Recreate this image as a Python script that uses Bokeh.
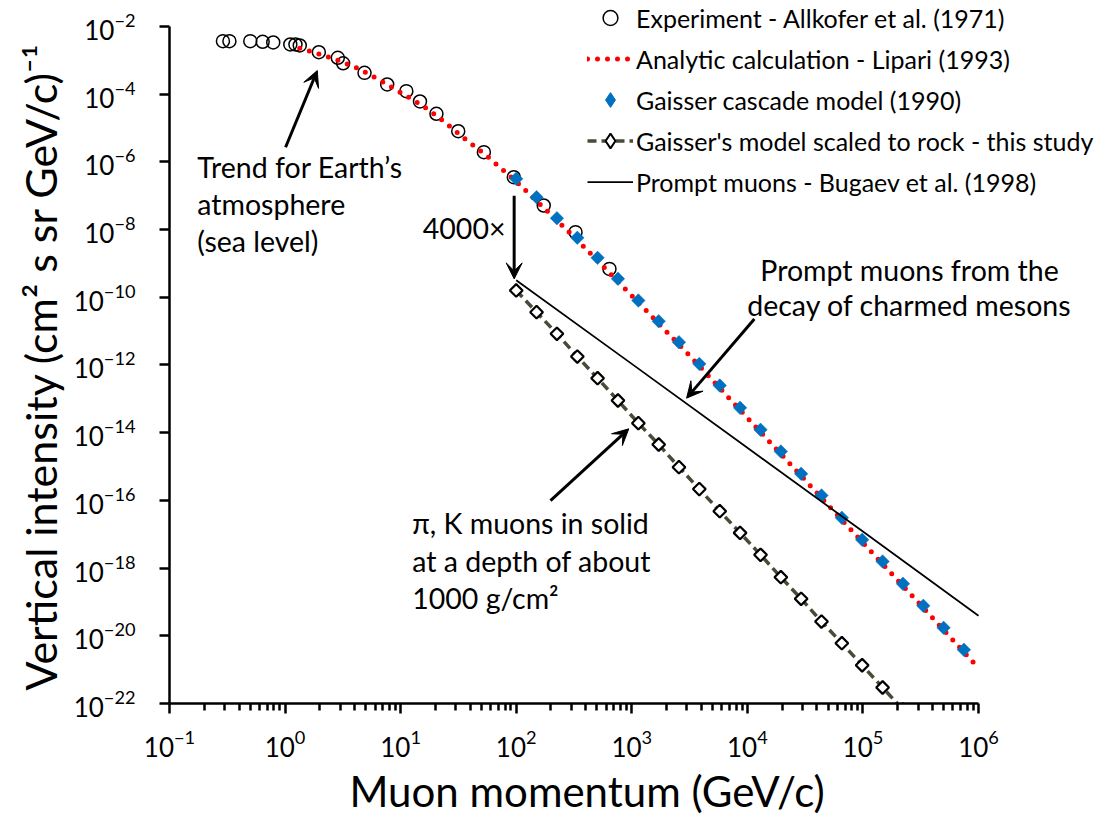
import numpy as np
from bokeh.plotting import figure
from bokeh.models import (FixedTicker, LogTickFormatter, Legend, LegendItem,
                          Label, Arrow, VeeHead, Title)
from bokeh.embed import file_html
from bokeh.resources import INLINE

FONT = "Lato"

# Sea-level vertical muon spectrum, Allkofer et al. (1971)
exp_p = [0.29, 0.33, 0.50, 0.64, 0.79, 1.11, 1.23, 1.34, 1.96, 2.86, 3.18,
         4.87, 7.65, 11.2, 14.7, 20.4, 31.5, 52.5, 95.3, 173, 326, 641]
exp_I = [3.68e-3, 3.68e-3, 3.68e-3, 3.53e-3, 3.37e-3, 2.94e-3, 2.94e-3,
         2.75e-3, 1.74e-3, 1.19e-3, 8.2e-4, 4.28e-4, 1.94e-4, 1.23e-4,
         6.09e-5, 2.64e-5, 8.07e-6, 1.94e-6, 3.53e-7, 5.15e-8, 8.4e-9, 6.9e-10]

# Analytic calculation, Lipari (1993)
lip_p = [1.34, 2.03, 3.02, 4.35, 6.27, 9.03, 15.7, 21.8, 35.2, 57.3,
         100, 316, 1000, 3160, 1.0e4, 3.16e4, 1.0e5, 3.16e5, 1.0e6]
lip_I = [2.29e-3, 1.49e-3, 9.44e-4, 5.62e-4, 2.85e-4, 1.38e-4, 4.43e-5,
         1.95e-5, 5.15e-6, 1.38e-6, 2.63e-7, 6.17e-9, 1.12e-10, 1.91e-12,
         2.75e-14, 3.98e-16, 5.62e-18, 8.13e-20, 1.12e-21]

# Gaisser cascade model (1990)
gai_p = [100, 150, 225, 338, 506, 759, 1140, 1710, 2560, 3840, 5770, 8650,
         1.30e4, 1.95e4, 2.92e4, 4.38e4, 6.57e4, 9.85e4, 1.48e5, 2.22e5,
         3.33e5, 4.99e5, 7.48e5]
gai_I = [3.17e-7, 9.06e-8, 2.17e-8, 5.73e-9, 1.47e-9, 3.52e-10, 8.04e-11,
         1.97e-11, 4.71e-12, 1.08e-12, 2.48e-13, 5.43e-14, 1.22e-14, 2.79e-15,
         6.11e-16, 1.40e-16, 3.06e-17, 6.86e-18, 1.57e-18, 3.44e-19, 7.69e-20,
         1.72e-20, 3.85e-21]

# Gaisser's model scaled to rock (~1000 g/cm2)
rock_p = [100, 150, 225, 338, 506, 759, 1140, 1710, 2560, 3840, 5770, 8650,
          1.30e4, 1.95e4, 2.92e4, 4.38e4, 6.57e4, 9.85e4, 1.48e5, 2.22e5]
rock_I = [1.59e-10, 3.63e-11, 8.36e-12, 1.78e-12, 4.07e-13, 8.94e-14,
          1.91e-14, 4.48e-15, 9.58e-16, 2.16e-16, 4.80e-17, 1.10e-17,
          2.47e-18, 5.38e-19, 1.24e-19, 2.64e-20, 6.04e-21, 1.35e-21,
          2.97e-22, 6.6e-23]

# Prompt muons, Bugaev et al. (1998)
prompt_p = [100, 1.0e3, 1.0e4, 1.0e5, 1.0e6]
prompt_I = [3.2e-10, 1.08e-12, 3.6e-15, 1.2e-17, 3.9e-20]

# Axis ticks
x_ticks = [1e-1, 1e0, 1e1, 1e2, 1e3, 1e4, 1e5, 1e6]
x_minor = [m * 10.0 ** d for d in range(-1, 6) for m in range(2, 10)]
y_ticks = [1e-22, 1e-20, 1e-18, 1e-16, 1e-14, 1e-12, 1e-10, 1e-8, 1e-6,
           1e-4, 1e-2]

# The frame runs past the axis ends so that the legend and the notes on the
# right have room; the axes themselves are bounded to 1e-1..1e6 / 1e-22..1e-2.
p = figure(width=1109, height=822, x_axis_type="log", y_axis_type="log",
           x_range=(0.1, 1.256e7), y_range=(1e-22, 0.0586),
           output_backend="svg", toolbar_location=None,
           min_border_left=169, min_border_right=4,
           min_border_top=0, min_border_bottom=119)
p.outline_line_color = None
p.grid.visible = False
p.background_fill_color = "white"
p.border_fill_color = "white"

# Axes
for ax in (p.xaxis, p.yaxis):
    ax.formatter = LogTickFormatter()
    ax.axis_line_width = 2.5
    ax.axis_line_color = "black"
    ax.major_tick_line_width = 2.5
    ax.major_tick_line_color = "black"
    ax.major_tick_in = 0
    ax.major_tick_out = 10
    ax.major_label_text_font = FONT
    ax.major_label_text_font_size = "26px"
    ax.major_label_text_color = "black"

p.xaxis.bounds = (0.1, 1e6)
p.xaxis.ticker = FixedTicker(ticks=x_ticks, minor_ticks=x_minor)
p.xaxis.minor_tick_line_width = 2.5
p.xaxis.minor_tick_line_color = "black"
p.xaxis.minor_tick_in = 0
p.xaxis.minor_tick_out = 7
p.xaxis.major_label_standoff = 16

p.yaxis.bounds = (1e-22, 1e-2)
p.yaxis.ticker = FixedTicker(ticks=y_ticks)
p.yaxis.minor_tick_out = 0
p.yaxis.minor_tick_line_color = None
p.yaxis.major_label_standoff = 24

# Axis titles, placed along the bounded axes
p.add_layout(Title(text="Muon momentum (GeV/c)", align="left", offset=180,
                   text_font=FONT, text_font_size="42px",
                   text_font_style="normal", text_color="black",
                   standoff=9), "below")
p.add_layout(Title(text="Vertical intensity (cm\u00b2 s sr GeV/c)\u207b\u00b9",
                   align="left", offset=13,
                   text_font=FONT, text_font_size="43px",
                   text_font_style="normal", text_color="black",
                   standoff=10), "left")

# Series
r_exp = p.scatter(exp_p, exp_I, marker="circle", size=13, fill_color=None,
                  line_color="black", line_width=1.5)
r_lip = p.line(lip_p, lip_I, line_color="#FF0000", line_width=5,
               line_dash="0 10", line_cap="round")
# small diamonds hidden under each rotated square; they give the legend
# its diamond symbols
k_gai = p.scatter(gai_p, gai_I, marker="diamond", size=8,
                  fill_color="#0070C0", line_color="#0070C0")
r_gai = p.scatter(gai_p, gai_I, marker="square", angle=np.pi / 4, size=9.5,
                  fill_color="#0070C0", line_color="#0070C0", line_width=0.5)
r_rock_line = p.line(rock_p, rock_I, line_color="#4B4A37", line_width=3.5,
                     line_dash="9 5")
k_rock = p.scatter(rock_p, rock_I, marker="diamond", size=7,
                   fill_color="white", line_color="black", line_width=2)
r_rock = p.scatter(rock_p, rock_I, marker="square", angle=np.pi / 4, size=9,
                   fill_color="white", line_color="black", line_width=2.2)
r_prompt = p.line(prompt_p, prompt_I, line_color="black", line_width=1.75)

legend = Legend(items=[
    LegendItem(label="Experiment - Allkofer et al. (1971)", renderers=[r_exp]),
    LegendItem(label="Analytic calculation - Lipari (1993)", renderers=[r_lip]),
    LegendItem(label="Gaisser cascade model (1990)", renderers=[k_gai]),
    LegendItem(label="Gaisser's model scaled to rock - this study",
               renderers=[r_rock_line, k_rock]),
    LegendItem(label="Prompt muons - Bugaev et al. (1998)", renderers=[r_prompt]),
], location=(418, 503))
legend.padding = 0
legend.margin = 0
legend.spacing = 4
legend.glyph_width = 46
legend.glyph_height = 37
legend.label_height = 30
legend.label_standoff = 3
legend.label_text_font = FONT
legend.label_text_font_size = "25px"
legend.label_text_color = "black"
legend.border_line_color = None
legend.background_fill_alpha = 0
p.add_layout(legend)


def add_lines(lines, x, ys, align):
    for txt, y in zip(lines, ys):
        p.add_layout(Label(x=x, y=y, text=txt, text_font=FONT,
                           text_font_size="28.5px", text_color="black",
                           text_align=align, text_baseline="middle"))


add_lines(["Trend for Earth\u2019s", "atmosphere", "(sea level)"],
          0.174, [6.84e-7, 5.52e-8, 4.46e-9], "left")
add_lines(["4000\u00d7"], 80.7, [1.08e-8], "right")
add_lines(["Prompt muons from the", "decay of charmed mesons"],
          2.53e5, [6.62e-10, 6.12e-11], "center")
add_lines(["\u03c0, K muons in solid", "at a depth of about", "1000 g/cm\u00b2"],
          12.6, [2.15e-17, 1.59e-18, 1.31e-19], "left")


def add_arrow(x0, y0, x1, y1):
    p.add_layout(Arrow(end=VeeHead(size=16, fill_color="black",
                                   line_color="black", line_width=1),
                       x_start=x0, y_start=y0, x_end=x1, y_end=y1,
                       line_color="black", line_width=3))


add_arrow(1.01, 2.7e-6, 1.90, 5.0e-4)
add_arrow(96, 1.0e-7, 96, 3.5e-10)
add_arrow(1.15e4, 2.3e-11, 2980, 1.05e-13)
add_arrow(198, 9.9e-17, 942, 1.3e-14)

open("out.html", "w").write(file_html(p, INLINE))
